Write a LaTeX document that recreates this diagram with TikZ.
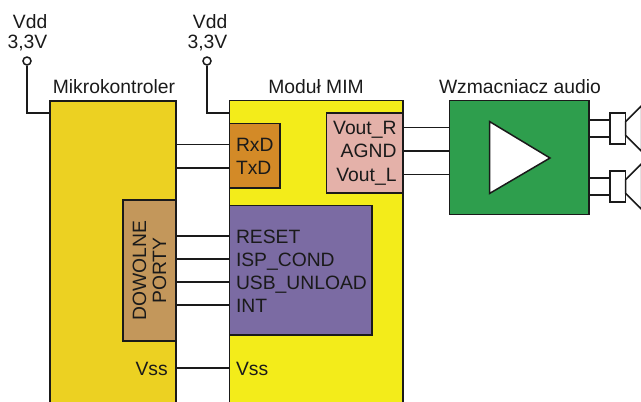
\documentclass[tikz,border=0pt]{standalone}
\usepackage{fontspec}
\setmainfont{Liberation Sans}
\usepackage{tikz}
\usetikzlibrary{arrows}
\definecolor{mcucol}{HTML}{ECD122}
\definecolor{mimcol}{HTML}{F3EC1A}
\definecolor{uartcol}{HTML}{D38A27}
\definecolor{voutcol}{HTML}{E4B1A9}
\definecolor{ctrlcol}{HTML}{7B6BA3}
\definecolor{portcol}{HTML}{C3975B}
\definecolor{ampcol}{HTML}{2E9E4D}
\definecolor{inkcol}{HTML}{1A1A1A}

\begin{document}
\begin{tikzpicture}[x=1pt,y=-1pt,line width=1.5pt,draw=inkcol,text=inkcol,node distance=23.5pt,
			main node/.style={rectangle,draw,anchor=north west,inner sep=0pt,outer sep=0pt},
			small text/.style={font=\fontsize{19.3pt}{20pt}\selectfont,inner sep=0pt,text height=14pt,text depth=0pt},
			left label/.style={small text,text width=134pt,align=left},
			right label/.style={small text,text width=66pt,align=right},
			pin node/.style={circle,draw,fill=white,inner sep=0pt,minimum size=8pt}]
			
			\clip (0,0) rectangle (641,402);
			
			\node[main node,fill=mcucol,minimum width=126pt,minimum height=320pt] (MCU) at (50,101) {};
			\node[main node,fill=mimcol,minimum width=173.5pt,minimum height=320pt] (MIM) at (229.5,100.5) {};
			\node[main node,fill=uartcol,minimum width=50.5pt,minimum height=64.5pt] (UART) at (229.5,123.5) {};
			\node[main node,fill=voutcol,minimum width=76.5pt,minimum height=80pt] (VOUT) at (326.5,113) {};
			\node[main node,fill=ctrlcol,minimum width=142.5pt,minimum height=129.5pt] (CTRL) at (229.5,205.5) {};
			\node[main node,fill=ampcol,minimum width=139.5pt,minimum height=114pt] (AMP) at (449.7,100.7) {};
			\node[rectangle,draw,fill=portcol,rotate=90,inner sep=0pt,outer sep=0pt,minimum width=141pt,minimum height=53pt,
				font=\fontsize{19.3pt}{20pt}\selectfont,align=center] (PORTS) at (149.5,270.5) {DOWOLNE\\PORTY};
			
			\node[small text,anchor=center] (mcu title) at (114,86) {Mikrokontroler};
			\node[small text,anchor=center] (mim title) at (316,86) {Moduł MIM};
			\node[small text,anchor=center] (amp title) at (520,86) {Wzmacniacz audio};
			
			\node[small text,anchor=east] (vdd A) at (48,21) {Vdd};
			\node[small text,anchor=east] (volt A) at (48,41) {3,3V};
			\node[small text,anchor=east] (vdd B) at (228,21) {Vdd};
			\node[small text,anchor=east] (volt B) at (228,41) {3,3V};
			\node[pin node] (pin A) at (27,61) {};
			\node[pin node] (pin B) at (207,61) {};
			\coordinate (corner A) at (27,113);
			\coordinate (corner B) at (207,113);
			
			\node[left label] (RxD) at (303,144.3) {RxD};
			\node[left label] (TxD) [below of=RxD] {TxD};
			\node[left label] (RESET) at (303,236) {RESET};
			\node[left label] (ISP) [below of=RESET,node distance=23pt] {ISP\_COND};
			\node[left label] (USB) [below of=ISP,node distance=23pt] {USB\_UNLOAD};
			\node[left label] (INT) [below of=USB,node distance=23pt] {INT};
			\node[left label] (VssB) at (303,368) {Vss};
			\node[small text,anchor=east] (VssA) at (168.5,368) {Vss};
			
			\node[right label] (VoutR) at (363.5,127.3) {Vout\_R};
			\node[right label] (AGND) [below of=VoutR] {AGND};
			\node[right label] (VoutL) [below of=AGND] {Vout\_L};
			
			\draw[fill=white,line join=miter] (489.5,121.5) -- (550,158) -- (489.5,193.5) -- cycle;
			
			\node[main node,fill=white,minimum width=15.7pt,minimum height=31pt] (SPKA) at (610,113) {};
			\node[main node,fill=white,minimum width=15.7pt,minimum height=31pt] (SPKB) at (610,171) {};
			\draw[fill=white] ([yshift=7pt]SPKA.east) -- ++(16,-16) -- ++(0,46) -- ([yshift=-7pt]SPKA.east) -- cycle;
			\draw[fill=white] ([yshift=7pt]SPKB.east) -- ++(16,-16) -- ++(0,46) -- ([yshift=-7pt]SPKB.east) -- cycle;
			
			\coordinate (SPKA up) at ([yshift=8.5pt]SPKA.west);
			\coordinate (SPKA down) at ([yshift=-8.5pt]SPKA.west);
			\coordinate (SPKB up) at ([yshift=8.5pt]SPKB.west);
			\coordinate (SPKB down) at ([yshift=-8.5pt]SPKB.west);
			
			\draw (pin A) -- (corner A) -- (MCU.west |- corner A);
			\draw (pin B) -- (corner B) -- (MIM.west |- corner B);
			\path[draw]
			(MCU.east |- RxD) -- (UART.west |- RxD)
			(MCU.east |- TxD) -- (UART.west |- TxD)
			(PORTS.south |- RESET) -- (CTRL.west |- RESET)
			(PORTS.south |- ISP) -- (CTRL.west |- ISP)
			(PORTS.south |- USB) -- (CTRL.west |- USB)
			(PORTS.south |- INT) -- (CTRL.west |- INT)
			(MCU.east |- VssB) -- (MIM.west |- VssB)
			(VOUT.east |- VoutR) -- (AMP.west |- VoutR)
			(VOUT.east |- AGND) -- (AMP.west |- AGND)
			(VOUT.east |- VoutL) -- (AMP.west |- VoutL)
			(AMP.east |- SPKA up) -- (SPKA up)
			(AMP.east |- SPKA down) -- (SPKA down)
			(AMP.east |- SPKB up) -- (SPKB up)
			(AMP.east |- SPKB down) -- (SPKB down);
\end{tikzpicture}
\end{document}
